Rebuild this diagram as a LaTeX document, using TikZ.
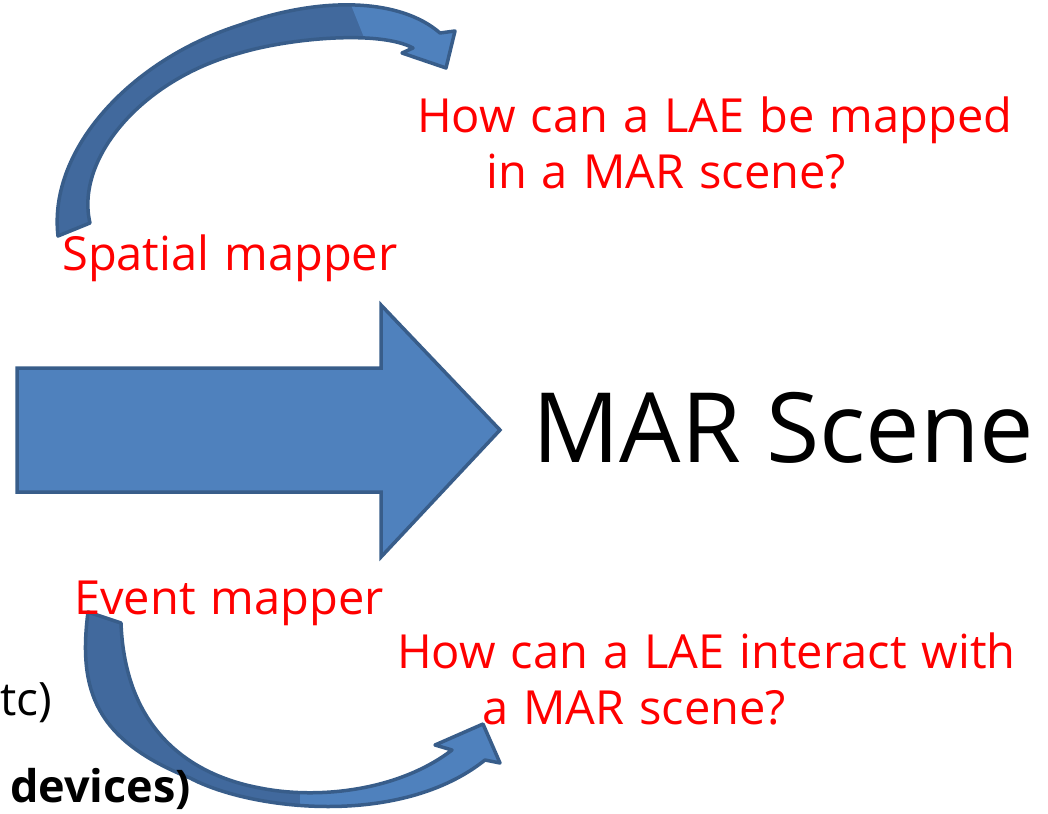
\documentclass[tikz,border=0pt]{standalone}
\usepackage{fontspec}
\setmainfont{Open Sans}
\definecolor{arrowblue}{HTML}{4F81BD}
\definecolor{arrowdark}{HTML}{41699D}
\definecolor{arrowedge}{HTML}{385D8A}
\newcommand{\redfnt}{\fontsize{47}{56}\selectfont\spaceskip 15pt\relax}
\begin{document}
\begin{tikzpicture}[x=1pt,y=-1pt,
  bigarrow/.style={fill=arrowblue, draw=arrowedge, line width=3.5pt, line join=miter},
  bandedge/.style={draw=arrowedge, line width=3.5pt, line join=round},
  redtxt/.style={text=red, font=\redfnt, inner sep=0pt, anchor=base west},
  blktxt/.style={text=black, font=\fontsize{46}{55}\selectfont, inner sep=0pt, anchor=base west},
  scenetxt/.style={text=black, font=\fontsize{97}{110}\selectfont, inner sep=0pt, anchor=base west}
]
\useasboundingbox (0,0) rectangle (1048,813);
\clip (0,0) rectangle (1048,813);

% big block arrow
\path[bigarrow] (17,368) -- (381,368) -- (381,305) -- (500,430) -- (381,557) -- (381,492) -- (17,492) -- cycle;

% top curved arrow
\def\toparrow{(58,236) .. controls (48,150) and (130,60) .. (240,25) .. controls (320,-4) and (400,-2) .. (440,33) -- (455,31) -- (446,68) -- (402,53) -- (413,48) .. controls (380,30) and (290,38) .. (240,53) .. controls (140,80) and (75,160) .. (90,223) -- cycle}
\fill[arrowdark] \toparrow;
\begin{scope}
  \clip (345,-10) -- (480,-10) -- (480,90) -- (385,90) -- cycle;
  \fill[arrowblue] \toparrow;
\end{scope}
\path[bandedge] \toparrow;

% bottom curved arrow
\def\botarrow{(88,612) .. controls (78,690) and (95,740) .. (190,778) .. controls (250,810) and (400,828) .. (485,760) -- (500,763) -- (483,724) -- (435,745) -- (452,750) .. controls (400,790) and (320,800) .. (260,788) .. controls (190,775) and (125,730) .. (121,623) -- cycle}
\fill[arrowdark] \botarrow;
\begin{scope}
  \clip (300,792) -- (330,700) -- (520,700) -- (520,830) -- (300,830) -- cycle;
  \fill[arrowblue] \botarrow;
\end{scope}
\path[bandedge] \botarrow;

% texts
\node[scenetxt] (scene) at (532,462) {MAR Scene};
\node[redtxt] (q1a) at (417,133) {How can a LAE be mapped};
\node[redtxt] (q1b) at (486,188) {in a MAR scene?};
\node[redtxt] (spatial) at (62,270) {Spatial mapper};
\node[redtxt] (event) at (74,614) {Event mapper};
\node[redtxt] (q2a) at (397,668) {How can a LAE interact with};
\node[redtxt] (q2b) at (482,724) {a MAR scene?};
\node[blktxt] (etc) at (0,715) {tc)};
\node[blktxt, font=\fontsize{45}{55}\selectfont\bfseries] (dev) at (10,802) {devices)};
\end{tikzpicture}
\end{document}
